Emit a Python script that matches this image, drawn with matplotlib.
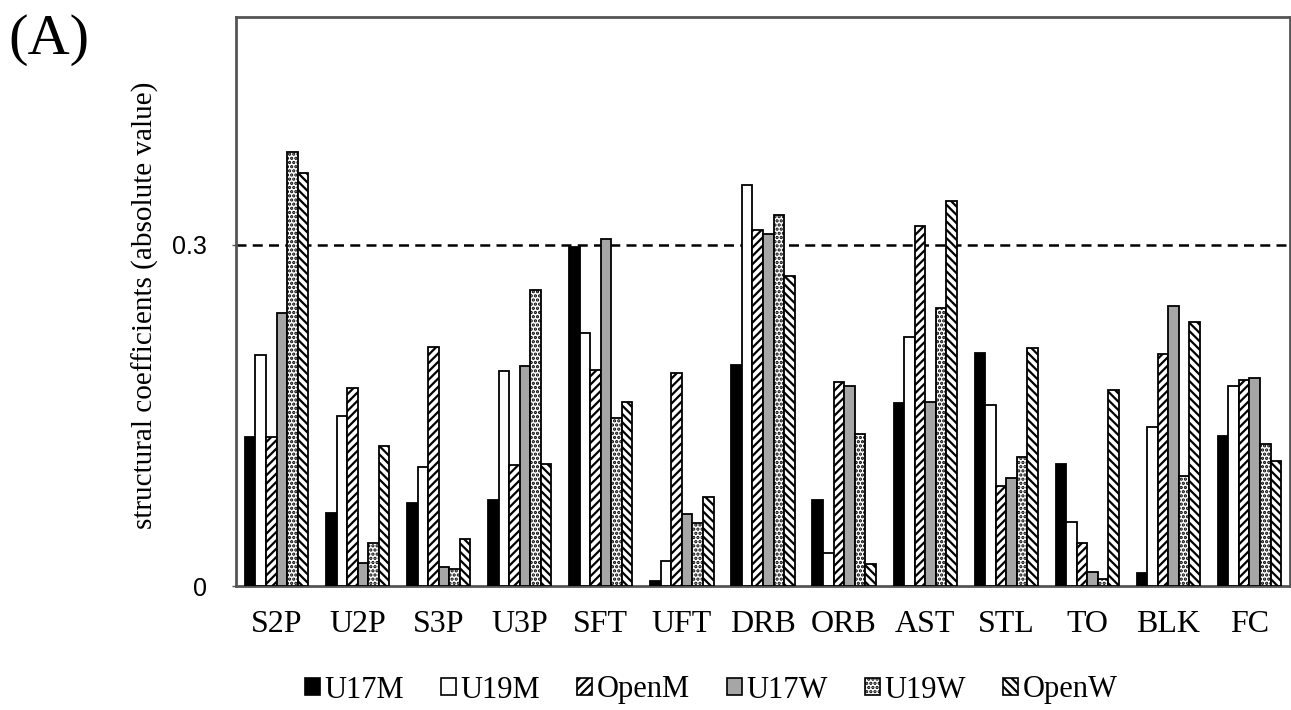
import matplotlib
matplotlib.use("Agg")
import matplotlib.pyplot as plt
from matplotlib.patches import Patch
import numpy as np

# ---------------------------------------------------------------------------
# Data
# ---------------------------------------------------------------------------

categories = ["S2P", "U2P", "S3P", "U3P", "SFT", "UFT", "DRB",
              "ORB", "AST", "STL", "TO", "BLK", "FC"]
series = ["U17M", "U19M", "OpenM", "U17W", "U19W", "OpenW"]

u17m  = [0.131, 0.064, 0.073, 0.076, 0.298, 0.004, 0.194, 0.076, 0.161, 0.205, 0.107, 0.011, 0.132]
u19m  = [0.203, 0.149, 0.105, 0.189, 0.222, 0.022, 0.352, 0.029, 0.219, 0.159, 0.056, 0.140, 0.176]
openm = [0.131, 0.174, 0.210, 0.106, 0.190, 0.187, 0.313, 0.179, 0.316, 0.088, 0.038, 0.204, 0.181]
u17w  = [0.240, 0.020, 0.017, 0.193, 0.305, 0.063, 0.309, 0.176, 0.162, 0.095, 0.012, 0.246, 0.183]
u19w  = [0.381, 0.038, 0.015, 0.260, 0.148, 0.055, 0.326, 0.134, 0.244, 0.113, 0.006, 0.097, 0.125]
openw = [0.363, 0.123, 0.041, 0.107, 0.162, 0.078, 0.272, 0.019, 0.338, 0.209, 0.172, 0.232, 0.110]

threshold = 0.3
values = [u17m, u19m, openm, u17w, u19w, openw]

# ---------------------------------------------------------------------------
# Styles
# ---------------------------------------------------------------------------

styles = [
    dict(facecolor="black", hatch=None),
    dict(facecolor="white", hatch=None),
    dict(facecolor="white", hatch="////"),
    dict(facecolor="#a6a6a6", hatch=None),
    dict(facecolor="white", hatch="...."),
    dict(facecolor="white", hatch="\\\\\\\\"),
]

plt.rcParams["hatch.linewidth"] = 1.6
SERIF = ["Liberation Serif", "DejaVu Serif"]
SANS = ["Liberation Sans", "DejaVu Sans"]

fig = plt.figure(figsize=(12.91, 7.10), dpi=100)
ax = fig.add_axes([236 / 1291, 124 / 710, 1054 / 1291, 569 / 710])

x = np.arange(len(categories))
width = 0.13
for i, (vals, st) in enumerate(zip(values, styles)):
    ax.bar(x + (i - 2.5) * width, vals, width, color=st["facecolor"],
           hatch=st["hatch"], edgecolor="black", linewidth=1.3, zorder=3)

ax.axhline(threshold, color="black", linestyle=(0, (4, 2.5)), linewidth=1.8, zorder=2)

ax.set_xlim(-0.5, len(categories) - 0.5)
ax.set_ylim(0, 0.5)
ax.set_xticks(x)
ax.set_xticklabels(categories, family=SERIF, fontsize=23)
ax.tick_params(axis="x", length=0, pad=17)
ax.set_yticks([0, threshold])
ax.set_yticklabels(["0", "0.3"], family=SANS, fontsize=18)
ax.tick_params(axis="y", length=3, width=1, color="#555555", pad=18)

for sp in ax.spines.values():
    sp.set_color("#555555")
    sp.set_linewidth(2)

fig.text(145 / 1291, 1 - 305 / 710, "structural coefficients (absolute value)",
         rotation=90, ha="center", va="center", family=SERIF, fontsize=21)
fig.text(8 / 1291, 1 - 40 / 710, "(A)", ha="left", va="center",
         family=SERIF, fontsize=42)

handles = [Patch(facecolor=st["facecolor"], hatch=st["hatch"],
                 edgecolor="black", linewidth=1.2) for st in styles]
fig.legend(handles, series, loc="center", ncol=6,
           bbox_to_anchor=(711 / 1291, 20 / 710), frameon=False,
           prop={"family": SERIF, "size": 22},
           handlelength=0.5, handleheight=0.5, handletextpad=0.15,
           columnspacing=1.2, borderpad=0)

fig.savefig("out.png", dpi=100, facecolor="white")
